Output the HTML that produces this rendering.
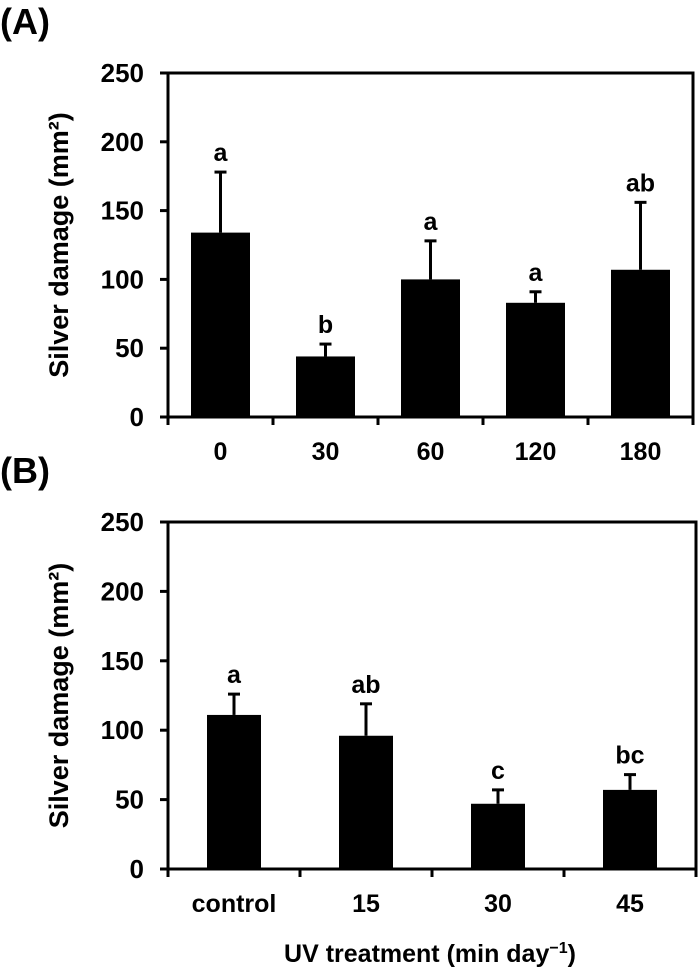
<!DOCTYPE html>
<html><head><meta charset="utf-8"><style>
html,body{margin:0;padding:0;background:#fff;}
svg text{font-family:"Liberation Sans",Arial,sans-serif;font-weight:bold;fill:#000;}
</style></head><body>
<svg id="fig" width="700" height="975" viewBox="0 0 700 975" xmlns="http://www.w3.org/2000/svg"></svg>
<script>
const catsA = ["0","30","60","120","180"];
const meansA = [134, 44, 100, 83, 107];
const errTopA = [178, 53, 128, 91, 156];
const lettersA = ["a","b","a","a","ab"];
const catsB = ["control","15","30","45"];
const meansB = [111, 96, 47, 57];
const errTopB = [126, 119, 57, 68];
const lettersB = ["a","ab","c","bc"];
const yTicks = [0,50,100,150,200,250];

const NS="http://www.w3.org/2000/svg";
const svg=document.getElementById('fig');
function mk(tag,attrs,parent){const e=document.createElementNS(NS,tag);for(const k in attrs)e.setAttribute(k,attrs[k]);(parent||svg).appendChild(e);return e;}

function panel(id,label,cats,means,errs,letters,top,bottom,left,right,barW,labelY){
  const g=mk('g',{});
  
  
  const y=v=>bottom-(v/250)*(bottom-top);
  const step=(right-left)/cats.length;
  const x=i=>left+step*(i+0.5);
  const pl=mk('text',{x:0,y:labelY,'font-size':36},g);pl.textContent=label;
  
  
  cats.forEach((c,i)=>{
    const cx=x(i);
    const eb=mk('line',{x1:cx,x2:cx,y1:y(errs[i]),y2:y(means[i]),stroke:'#000','stroke-width':3},g);
    
    
    const cap=mk('line',{x1:cx-6,x2:cx+6,y1:y(errs[i]),y2:y(errs[i]),stroke:'#000','stroke-width':3},g);
    
    
    const b=mk('rect',{x:cx-barW/2,y:y(means[i]),width:barW,height:bottom-y(means[i]),fill:'#000'},g);
    
    
    const l=mk('text',{x:cx,y:y(errs[i])-11,'font-size':25,'text-anchor':'middle'},g);l.textContent=letters[i];
    
    
    const t=mk('text',{x:cx,y:bottom+43,'font-size':25,'text-anchor':'middle'},g);t.textContent=c;
    
    
  });
  const fr=mk('rect',{x:left,y:top,width:right-left,height:bottom-top,fill:'none',stroke:'#000','stroke-width':3},g);
  
  
  for(let i=0;i<=cats.length;i++){
    const tx=left+step*i;
    const tk=mk('line',{x1:tx,x2:tx,y1:bottom,y2:bottom+8,stroke:'#000','stroke-width':3},g);
    
    
  }
  yTicks.forEach(v=>{
    const tk=mk('line',{x1:left-8,x2:left,y1:y(v),y2:y(v),stroke:'#000','stroke-width':3},g);
    
    
    const t=mk('text',{x:left-24,y:y(v)+9,'font-size':26,'text-anchor':'end'},g);t.textContent=v;
    
    
  });
  const cy=(top+bottom)/2;
  const yt=mk('text',{x:0,y:0,'font-size':27,'text-anchor':'middle',transform:`translate(68,${cy}) rotate(-90)`},g);
  yt.textContent='Silver damage (mm²)';
  
  
}
panel('a','(A)',catsA,meansA,errTopA,lettersA,73,417,168,693,59,34);
panel('b','(B)',catsB,meansB,errTopB,lettersB,522,869,168,696,54,483);
const xt=mk('text',{x:430,y:962,'font-size':25,'text-anchor':'middle'});
xt.innerHTML='UV treatment (min day<tspan dy="-9" font-size="16">−1</tspan><tspan dy="9">)</tspan>';


</script>
</body></html>
